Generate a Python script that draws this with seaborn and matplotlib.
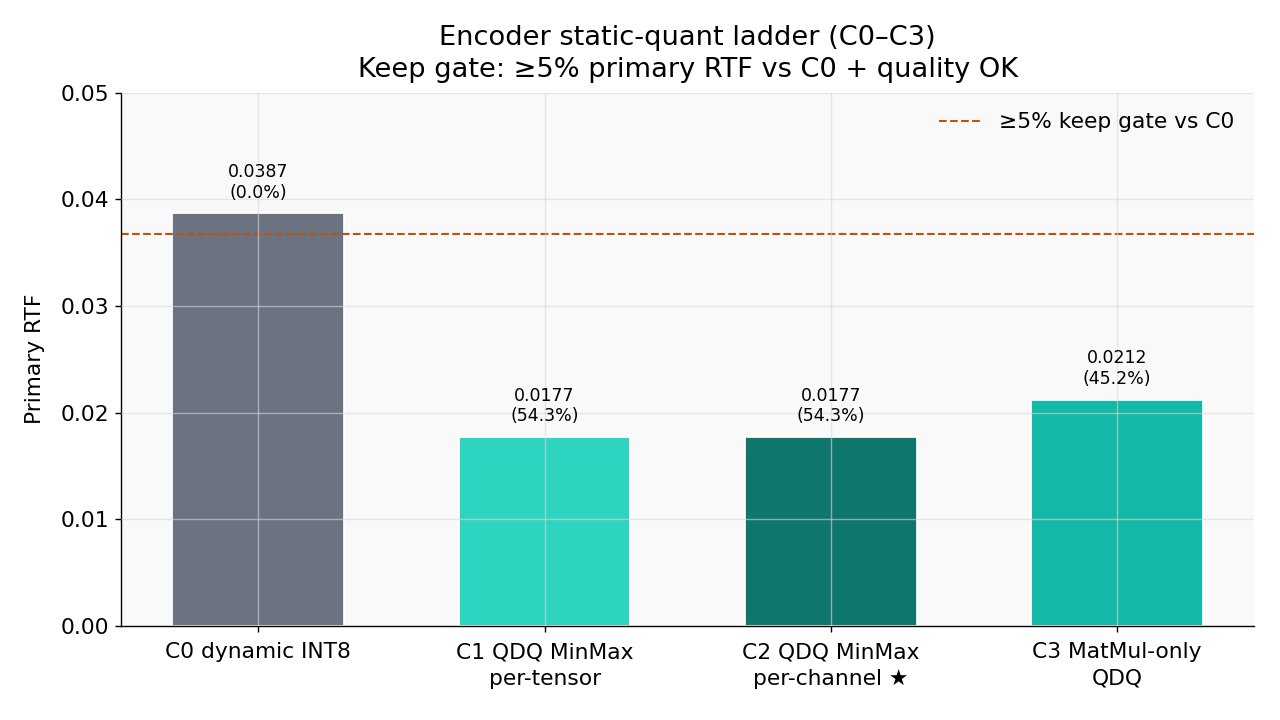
import numpy as np
import pandas as pd
import seaborn as sns
import matplotlib.pyplot as plt

# data
configs = ['C0 dynamic INT8', 'C1 QDQ MinMax\nper-tensor', 'C2 QDQ MinMax\nper-channel ★', 'C3 MatMul-only\nQDQ']
rtf = [0.0387, 0.0177, 0.0177, 0.0212]
gain = [0.0, 54.3, 54.3, 45.2]
colors = ['#6b7280', '#2dd4bf', '#0f766e', '#14b8a6']

df = pd.DataFrame({'config': configs, 'rtf': rtf})
gate = rtf[0] * 0.95

sns.set_style('ticks')
plt.rcParams['font.family'] = ['DejaVu Sans']
plt.rcParams['text.color'] = 'black'
plt.rcParams['axes.labelcolor'] = 'black'
plt.rcParams['xtick.color'] = 'black'
plt.rcParams['ytick.color'] = 'black'
plt.rcParams['axes.edgecolor'] = 'black'

fig, ax = plt.subplots(figsize=(10.24, 5.76), dpi=125)
ax.set_facecolor('#f9f9f9')
sns.barplot(data=df, x='config', y='rtf', hue='config', palette=colors,
            legend=False, width=0.6, saturation=1, ax=ax)

ax.axhline(gate, color='#c2510c', linestyle='--', linewidth=1.2, label='≥5% keep gate vs C0')

for i, (v, g) in enumerate(zip(rtf, gain)):
    ax.text(i, v + 0.0011, f'{v:.4f}\n({g:.1f}%)', ha='center', va='bottom', fontsize=10)

ax.set_xlim(-0.48, 3.48)
ax.set_ylim(0, 0.05)
ax.set_yticks(np.arange(0, 0.051, 0.01))
ax.tick_params(axis='both', labelsize=12.5)
ax.tick_params(axis='x', pad=6)
for lbl in ax.get_xticklabels():
    lbl.set_linespacing(1.4)
ax.set_xlabel('')
ax.set_ylabel('Primary RTF', fontsize=12.5, labelpad=9)
ax.set_title('Encoder static-quant ladder (C0–C3)\nKeep gate: ≥5% primary RTF vs C0 + quality OK',
             fontsize=15.7, linespacing=1.3, pad=9)
ax.grid(True, color='#d8d8d8', linewidth=0.8, alpha=0.6)
ax.set_axisbelow(False)
sns.despine(ax=ax)
ax.legend(loc='upper right', frameon=False, fontsize=12.5)

fig.subplots_adjust(left=0.0945, right=0.98, top=0.871, bottom=0.131)
fig.savefig('out.png', dpi=125)
